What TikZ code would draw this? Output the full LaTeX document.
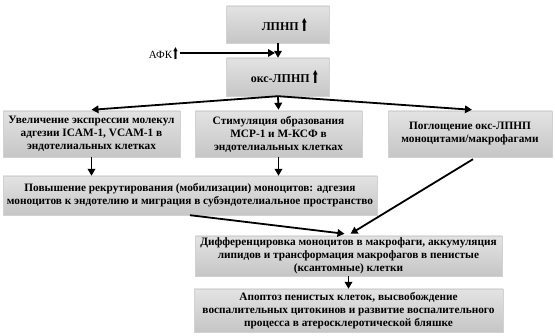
\documentclass[tikz,border=0pt]{standalone}
\usepackage{fontspec}
\setmainfont{Liberation Serif}
\newfontfamily\symf{DejaVu Sans}
\usetikzlibrary{arrows.meta,calc}
\newcommand{\uparr}{\raisebox{-1pt}{\scalebox{0.75}[1.45]{\symf\bfseries ⬆}}}
\begin{document}
\begin{tikzpicture}[x=1pt,y=-1pt]
\tikzset{
  box/.style={shade, top color=gray!22, bottom color=gray!45, draw=gray!35, line width=0.4pt,
    align=center, font=\bfseries\fontsize{11.3}{13}\selectfont, inner sep=1pt},
  arr/.style={line width=1.8pt, -{Triangle[length=7pt,width=7.5pt]}},
}
\fill[white] (0,0) rectangle (555,336);
\useasboundingbox (0,0) rectangle (555,336);

\node[box, minimum width=103pt, minimum height=37pt, font=\bfseries\fontsize{12}{14}\selectfont] (ldl) at (278,24.5) {\hspace*{14pt}ЛПНП\,\uparr};
\node[box, minimum width=103pt, minimum height=38pt, font=\bfseries\fontsize{12}{14}\selectfont] (ox) at (278,77) {\hspace*{14pt}окс-ЛПНП\,\uparr};
\node[font=\fontsize{11}{13}\selectfont, inner sep=1pt] (afk) at (164,53) {АФК\uparr};
\coordinate (afkend) at (275,53);

\node[box, minimum width=177pt, minimum height=46pt] (adhes) at (91.5,134) {Увеличение экспрессии молекул\\адгезии ICAM-1, VCAM-1 в\\эндотелиальных клетках};
\node[box, minimum width=167pt, minimum height=46pt] (mcp) at (278.5,134) {Стимуляция образования\\MCP-1 и М-КСФ в\\эндотелиальных клетках};
\node[box, minimum width=164pt, minimum height=46pt] (upt) at (470,134) {Поглощение окс-ЛПНП\\моноцитами/макрофагами};

\node[box, minimum width=374pt, minimum height=39pt] (recr) at (190,195.5) {Повышение рекрутирования (мобилизации) моноцитов: адгезия\\моноцитов к эндотелию и миграция в субэндотелиальное пространство};

\node[box, minimum width=307pt, minimum height=40pt] (diff) at (348.5,256) {Дифференцировка моноцитов в макрофаги, аккумуляция\\липидов и трансформация макрофагов в пенистые\\(ксантомные) клетки};
\node[box, minimum width=309pt, minimum height=43pt] (apop) at (348.5,310.5) {Апоптоз пенистых клеток, высвобождение\\воспалительных цитокинов и развитие воспалительного\\процесса в атеросклеротической бляшке};

\draw[arr] (ldl.south) -- (ox.north);
\draw[arr] (afk.east) -- (afkend);
\draw[arr] (ox.south) -- ($(adhes.north)+(0,-1)$);
\draw[arr] (ox.south) -- ($(mcp.north)+(0,-1)$);
\draw[arr] (ox.south) -- ($(upt.north)+(2,-1)$);
\draw[arr] (adhes.south) -- (adhes.south |- recr.north);
\draw[arr] (mcp.south) -- (mcp.south |- recr.north);
\draw[arr] (recr.south) -- ($(diff.north)+(-4,-2)$);
\draw[arr] ($(upt.south)+(3,2)$) -- ($(diff.north)+(2,-2)$);
\draw[arr] (diff.south) -- (apop.north);
\end{tikzpicture}
\end{document}
